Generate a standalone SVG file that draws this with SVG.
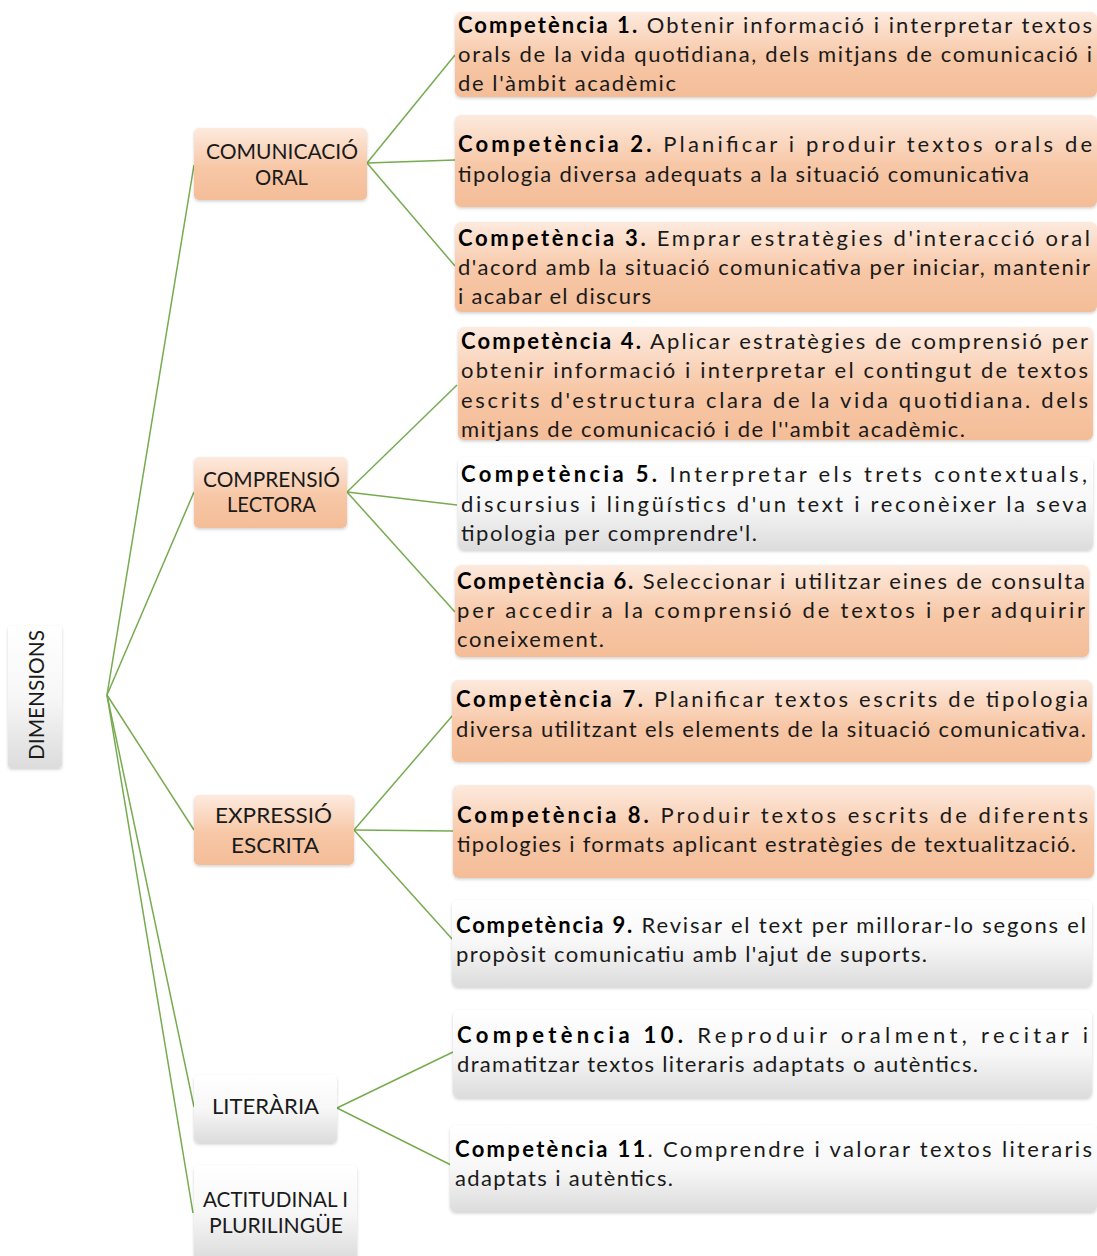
<svg xmlns="http://www.w3.org/2000/svg" width="1097" height="1256" viewBox="0 0 1097 1256">
<defs>
<linearGradient id="gOr" x1="0" y1="0" x2="0" y2="1">
<stop offset="0" stop-color="#fdeade"/>
<stop offset="0.55" stop-color="#f7c7a6"/>
<stop offset="1" stop-color="#f4bd98"/>
</linearGradient>
<linearGradient id="gGr" x1="0" y1="0" x2="0" y2="1">
<stop offset="0" stop-color="#ffffff"/>
<stop offset="0.5" stop-color="#f7f7f7"/>
<stop offset="1" stop-color="#dcdcdc"/>
</linearGradient>
<filter id="sh" x="-5%" y="-10%" width="110%" height="130%">
<feDropShadow dx="0" dy="1.5" stdDeviation="1.5" flood-color="#000" flood-opacity="0.18"/>
</filter>
</defs>
<style>
.or{fill:url(#gOr);filter:url(#sh)}
.gr{fill:url(#gGr);filter:url(#sh)}
.t{font-family:Lato,"Open Sans","Liberation Sans",sans-serif;font-size:22px;fill:#1a1a1a}
.b{font-weight:bold;fill:#000}
.c{font-family:Lato,"Open Sans","Liberation Sans",sans-serif;font-size:22px;fill:#1a1a1a}
.ln{stroke:#77ab4f;stroke-width:1.5;fill:none}
</style>
<rect width="1097" height="1256" fill="#ffffff"/>

<g id="connectors">
<line class="ln" x1="107" y1="695" x2="194" y2="165"/>
<line class="ln" x1="107" y1="695" x2="194" y2="492"/>
<line class="ln" x1="107" y1="695" x2="194" y2="830"/>
<line class="ln" x1="107" y1="695" x2="194" y2="1107"/>
<line class="ln" x1="107" y1="695" x2="193" y2="1213"/>
<line class="ln" x1="367" y1="163" x2="455" y2="55"/>
<line class="ln" x1="367" y1="163" x2="455" y2="160"/>
<line class="ln" x1="367" y1="163" x2="455" y2="266"/>
<line class="ln" x1="347" y1="492" x2="457" y2="385"/>
<line class="ln" x1="347" y1="492" x2="457" y2="505"/>
<line class="ln" x1="347" y1="492" x2="455" y2="612"/>
<line class="ln" x1="354" y1="830" x2="453" y2="715"/>
<line class="ln" x1="354" y1="830" x2="453" y2="831"/>
<line class="ln" x1="354" y1="830" x2="453" y2="940"/>
<line class="ln" x1="337" y1="1108" x2="453" y2="1052"/>
<line class="ln" x1="337" y1="1108" x2="451" y2="1165"/>
</g>

<g id="dimensions">
<rect class="gr" x="8" y="626" width="54" height="142" rx="4"/>
<text class="c" transform="translate(44,695) rotate(-90)" text-anchor="middle" textLength="130" lengthAdjust="spacingAndGlyphs">DIMENSIONS</text>
</g>

<g id="comunicacio-oral">
<rect class="or" x="194" y="128" width="173" height="72" rx="5"/>
<text class="c" x="206" y="159" textLength="152" lengthAdjust="spacingAndGlyphs">COMUNICACIÓ</text>
<text class="c" x="255" y="185" textLength="53" lengthAdjust="spacingAndGlyphs">ORAL</text>
</g>
<g id="comprensio-lectora">
<rect class="or" x="194" y="457" width="153" height="71" rx="5"/>
<text class="c" x="203" y="487" textLength="137" lengthAdjust="spacingAndGlyphs">COMPRENSIÓ</text>
<text class="c" x="227" y="512" textLength="89" lengthAdjust="spacingAndGlyphs">LECTORA</text>
</g>
<g id="expressio-escrita">
<rect class="or" x="194" y="795" width="160" height="70" rx="5"/>
<text class="c" x="215" y="823" textLength="117" lengthAdjust="spacingAndGlyphs">EXPRESSIÓ</text>
<text class="c" x="231" y="853" textLength="88" lengthAdjust="spacingAndGlyphs">ESCRITA</text>
</g>
<g id="literaria">
<rect class="gr" x="194" y="1075" width="143" height="68" rx="5"/>
<text class="c" x="212" y="1114" textLength="107" lengthAdjust="spacingAndGlyphs">LITERÀRIA</text>
</g>
<g id="actitudinal">
<rect class="gr" x="194" y="1165" width="163" height="95" rx="5"/>
<text class="c" x="203" y="1207" textLength="145" lengthAdjust="spacingAndGlyphs">ACTITUDINAL I</text>
<text class="c" x="209" y="1233" textLength="134" lengthAdjust="spacingAndGlyphs">PLURILINGÜE</text>
</g>

<g id="comp1">
<rect class="or" x="455" y="12" width="642" height="85" rx="6"/>
<text class="t" x="458" y="33" textLength="634"><tspan class="b">Competència 1.</tspan> Obtenir informació i interpretar textos</text>
<text class="t" x="458" y="62" textLength="634">orals de la vida quotidiana, dels mitjans de comunicació i</text>
<text class="t" x="458" y="91" textLength="218">de l'àmbit acadèmic</text>
</g>
<g id="comp2">
<rect class="or" x="455" y="115" width="642" height="92" rx="6"/>
<text class="t" x="458" y="152" textLength="634"><tspan class="b">Competència 2.</tspan> Planificar i produir textos orals de</text>
<text class="t" x="458" y="182" textLength="571">tipologia diversa adequats a la situació comunicativa</text>
</g>
<g id="comp3">
<rect class="or" x="455" y="222" width="642" height="90" rx="6"/>
<text class="t" x="458" y="246" textLength="632"><tspan class="b">Competència 3.</tspan> Emprar estratègies d'interacció oral</text>
<text class="t" x="458" y="275" textLength="632">d'acord amb la situació comunicativa per iniciar, mantenir</text>
<text class="t" x="458" y="304" textLength="193">i acabar el discurs</text>
</g>
<g id="comp4">
<rect class="or" x="458" y="327" width="635" height="113" rx="6"/>
<text class="t" x="461" y="349" textLength="627"><tspan class="b">Competència 4.</tspan> Aplicar estratègies de comprensió per</text>
<text class="t" x="461" y="378" textLength="627">obtenir informació i interpretar el contingut de textos</text>
<text class="t" x="461" y="408" textLength="627">escrits d'estructura clara de la vida quotidiana. dels</text>
<text class="t" x="461" y="437" textLength="504">mitjans de comunicació i de l''ambit acadèmic.</text>
</g>
<g id="comp5">
<rect class="gr" x="458" y="457" width="635" height="93" rx="6"/>
<text class="t" x="461" y="482" textLength="626"><tspan class="b">Competència 5.</tspan> Interpretar els trets contextuals,</text>
<text class="t" x="461" y="512" textLength="626">discursius i lingüístics d'un text i reconèixer la seva</text>
<text class="t" x="461" y="541" textLength="296">tipologia per comprendre'l.</text>
</g>
<g id="comp6">
<rect class="or" x="455" y="565" width="634" height="92" rx="6"/>
<text class="t" x="457" y="589" textLength="628"><tspan class="b">Competència 6.</tspan> Seleccionar i utilitzar eines de consulta</text>
<text class="t" x="457" y="618" textLength="628">per accedir a la comprensió de textos i per adquirir</text>
<text class="t" x="457" y="647" textLength="147">coneixement.</text>
</g>
<g id="comp7">
<rect class="or" x="452" y="680" width="640" height="82" rx="6"/>
<text class="t" x="456" y="707" textLength="632"><tspan class="b">Competència 7.</tspan> Planificar textos escrits de tipologia</text>
<text class="t" x="456" y="737" textLength="630">diversa utilitzant els elements de la situació comunicativa.</text>
</g>
<g id="comp8">
<rect class="or" x="453" y="785" width="641" height="93" rx="6"/>
<text class="t" x="457" y="823" textLength="631"><tspan class="b">Competència 8.</tspan> Produir textos escrits de diferents</text>
<text class="t" x="457" y="852" textLength="619">tipologies i formats aplicant estratègies de textualització.</text>
</g>
<g id="comp9">
<rect class="gr" x="452" y="900" width="640" height="87" rx="6"/>
<text class="t" x="456" y="933" textLength="630"><tspan class="b">Competència 9.</tspan> Revisar el text per millorar-lo segons el</text>
<text class="t" x="456" y="962" textLength="471">propòsit comunicatiu amb l'ajut de suports.</text>
</g>
<g id="comp10">
<rect class="gr" x="453" y="1010" width="639" height="88" rx="6"/>
<text class="t" x="457" y="1043" textLength="631"><tspan class="b">Competència 10.</tspan> Reproduir oralment, recitar i</text>
<text class="t" x="457" y="1072" textLength="521">dramatitzar textos literaris adaptats o autèntics.</text>
</g>
<g id="comp11">
<rect class="gr" x="450" y="1125" width="647" height="87" rx="6"/>
<text class="t" x="455" y="1157" textLength="637"><tspan class="b">Competència 11</tspan>. Comprendre i valorar textos literaris</text>
<text class="t" x="455" y="1186" textLength="218">adaptats i autèntics.</text>
</g>
</svg>
